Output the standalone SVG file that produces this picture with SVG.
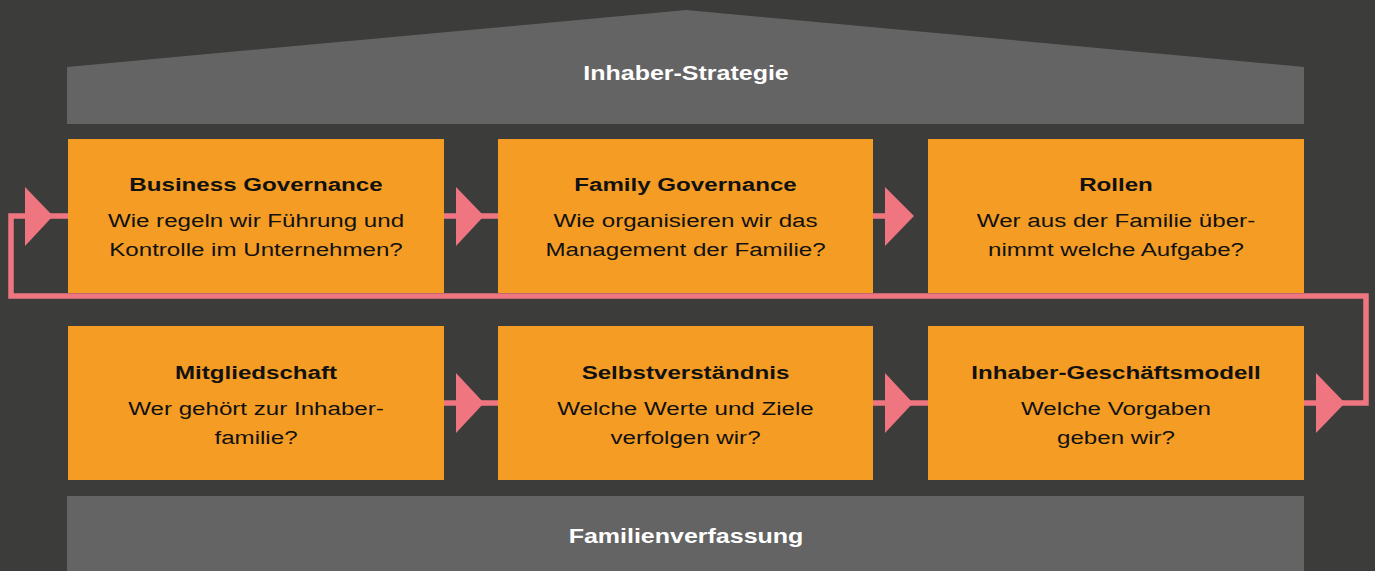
<svg xmlns="http://www.w3.org/2000/svg" width="1375" height="571" viewBox="0 0 1375 571">
<style>
.bg{fill:#3c3c3a}
.band{fill:#646464}
.box{fill:#f49c23}
.conn{fill:none;stroke:#ef7681;stroke-width:5.5;stroke-linejoin:miter}
.head{fill:#ef7681}
.t{font-family:"Liberation Sans",Arial,sans-serif;font-size:19px;fill:#111;text-anchor:middle}
.b{font-weight:bold}
.w{font-family:"Liberation Sans",Arial,sans-serif;font-size:20px;font-weight:bold;fill:#fff;text-anchor:middle}
</style>
<rect class="bg" x="0" y="0" width="1375" height="571"/>
<g id="roof">
<polygon class="band" points="67,67 686,10 1304,67 1304,124 67,124"/>
<text class="w" transform="translate(686,80) scale(1.25,1)">Inhaber-Strategie</text>
</g>
<g id="base">
<rect class="band" x="67" y="496" width="1237" height="75"/>
<text class="w" transform="translate(686,543) scale(1.25,1)">Familienverfassung</text>
</g>
<g id="connectors">
<path class="conn" d="M1304,403 H1366 V296 H11 V216 H68"/>
<polygon class="head" points="25,187 25,246 53,216"/>
<polygon class="head" points="1316,373 1316,433 1345,403"/>
<path class="conn" d="M444,216 H498"/>
<polygon class="head" points="456,187 456,246 484,216"/>
<path class="conn" d="M873,216 H886"/>
<polygon class="head" points="885,187 885,246 914,216"/>
<path class="conn" d="M444,403 H498"/>
<polygon class="head" points="456,373 456,433 484,403"/>
<path class="conn" d="M873,403 H928"/>
<polygon class="head" points="885,373 885,433 913,403"/>
</g>
<g id="business-governance">
<rect class="box" x="68" y="139" width="376" height="154"/>
<text class="t b" transform="translate(256,191) scale(1.27,1)">Business Governance</text>
<text class="t" transform="translate(256,227) scale(1.27,1)">Wie regeln wir Führung und</text>
<text class="t" transform="translate(256,256) scale(1.27,1)">Kontrolle im Unternehmen?</text>
</g>
<g id="family-governance">
<rect class="box" x="498" y="139" width="375" height="154"/>
<text class="t b" transform="translate(685.5,191) scale(1.27,1)">Family Governance</text>
<text class="t" transform="translate(685.5,227) scale(1.27,1)">Wie organisieren wir das</text>
<text class="t" transform="translate(685.5,256) scale(1.27,1)">Management der Familie?</text>
</g>
<g id="rollen">
<rect class="box" x="928" y="139" width="376" height="154"/>
<text class="t b" transform="translate(1116,191) scale(1.27,1)">Rollen</text>
<text class="t" transform="translate(1116,227) scale(1.27,1)">Wer aus der Familie über-</text>
<text class="t" transform="translate(1116,256) scale(1.27,1)">nimmt welche Aufgabe?</text>
</g>
<g id="mitgliedschaft">
<rect class="box" x="68" y="326" width="376" height="154"/>
<text class="t b" transform="translate(256,379) scale(1.27,1)">Mitgliedschaft</text>
<text class="t" transform="translate(256,415) scale(1.27,1)">Wer gehört zur Inhaber-</text>
<text class="t" transform="translate(256,444) scale(1.27,1)">familie?</text>
</g>
<g id="selbstverstaendnis">
<rect class="box" x="498" y="326" width="375" height="154"/>
<text class="t b" transform="translate(685.5,379) scale(1.27,1)">Selbstverständnis</text>
<text class="t" transform="translate(685.5,415) scale(1.27,1)">Welche Werte und Ziele</text>
<text class="t" transform="translate(685.5,444) scale(1.27,1)">verfolgen wir?</text>
</g>
<g id="inhaber-geschaeftsmodell">
<rect class="box" x="928" y="326" width="376" height="154"/>
<text class="t b" transform="translate(1116,379) scale(1.27,1)">Inhaber-Geschäftsmodell</text>
<text class="t" transform="translate(1116,415) scale(1.27,1)">Welche Vorgaben</text>
<text class="t" transform="translate(1116,444) scale(1.27,1)">geben wir?</text>
</g>
</svg>
